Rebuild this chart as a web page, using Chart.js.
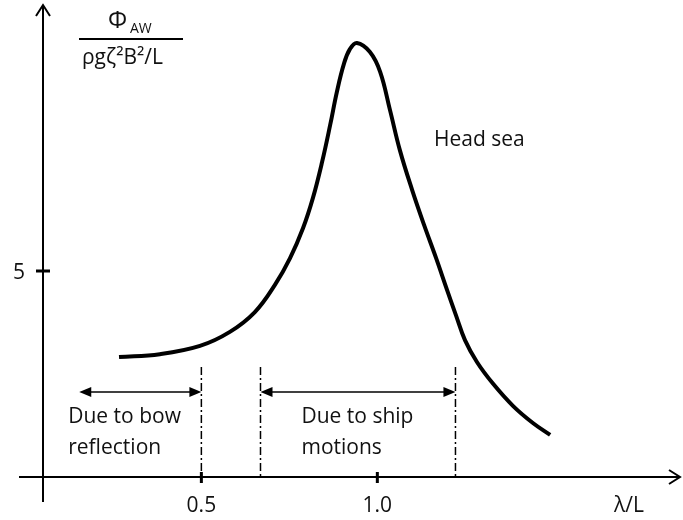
<!DOCTYPE html>
<html>
<head>
<meta charset="utf-8">
<script src="https://cdn.jsdelivr.net/npm/chart.js@4.4.1/dist/chart.umd.min.js"></script>
<style>
  html, body { margin: 0; padding: 0; background: #fff; }
  #wrap { width: 683px; height: 520px; }
</style>
</head>
<body>
<div id="wrap"><canvas id="chart"></canvas></div>
<script>
// wave length ratio λ/L and added resistance
const lambdaL = [0.266, 0.382, 0.496, 0.581, 0.652, 0.709, 0.752, 0.789, 0.817, 0.843, 0.866, 0.885,
    0.905, 0.922, 0.942, 0.979, 1.008, 1.036, 1.064, 1.099, 1.133, 1.167, 1.198, 1.224, 1.249,
    1.283, 1.329, 1.386, 1.442, 1.491];
const resistance = [2.91, 2.98, 3.18, 3.52, 4.00, 4.66, 5.31, 6.04, 6.77, 7.64, 8.54, 9.34,
    10.02, 10.38, 10.53, 10.31, 9.83, 8.90, 7.93, 6.96, 6.11, 5.31, 4.54, 3.91, 3.32,
    2.79, 2.26, 1.72, 1.31, 1.02];

const xTicks = [0.5, 1.0];
const xTickLabels = ['0.5', '1.0'];
const yTicks = [5];
const yTickLabels = ['5'];

// region limits on λ/L
const bowRange = [0.153, 0.5];
const shipRange = [0.668, 1.222];
const limitTop = 2.67;   // top of the dash-dot lines
const arrowLevel = 2.06; // height of the double arrows

const FONT = '"Open Sans", "Noto Sans", sans-serif';
const INK = '#111';

function arrowHead(ctx, x, y, dir) {
    // filled triangle, dir = -1 left, 1 right
    ctx.beginPath();
    ctx.moveTo(x, y);
    ctx.lineTo(x - dir * 12, y - 5);
    ctx.lineTo(x - dir * 12, y + 5);
    ctx.closePath();
    ctx.fill();
}

function doubleArrow(ctx, x1, x2, y) {
    ctx.beginPath();
    ctx.moveTo(x1 + 4, y);
    ctx.lineTo(x2 - 4, y);
    ctx.stroke();
    arrowHead(ctx, x1, y, -1);
    arrowHead(ctx, x2, y, 1);
}

const sketchPlugin = {
    id: 'sketch',
    afterDatasetsDraw(chart) {
        const ctx = chart.ctx;
        const xs = chart.scales.x, ys = chart.scales.y;
        const x0 = xs.getPixelForValue(xs.min);
        const y0 = ys.getPixelForValue(0);
        const yTop = ys.getPixelForValue(ys.max);
        const xRight = xs.getPixelForValue(xs.max);

        ctx.save();
        ctx.strokeStyle = '#000';
        ctx.fillStyle = '#000';

        // axes
        ctx.lineWidth = 2;
        ctx.beginPath();
        ctx.moveTo(x0, y0 + 25);
        ctx.lineTo(x0, yTop);
        ctx.moveTo(x0 - 24, y0);
        ctx.lineTo(xRight, y0);
        ctx.stroke();
        // open arrow heads
        ctx.beginPath();
        ctx.moveTo(x0 - 7, yTop + 11);
        ctx.lineTo(x0, yTop);
        ctx.lineTo(x0 + 7, yTop + 11);
        ctx.moveTo(xRight - 11, y0 - 7);
        ctx.lineTo(xRight, y0);
        ctx.lineTo(xRight - 11, y0 + 7);
        ctx.stroke();

        // ticks
        ctx.lineWidth = 3;
        ctx.beginPath();
        xTicks.forEach(v => {
            const px = xs.getPixelForValue(v);
            ctx.moveTo(px, y0 - 5);
            ctx.lineTo(px, y0 + 6);
        });
        yTicks.forEach(v => {
            const py = ys.getPixelForValue(v);
            ctx.moveTo(x0 - 7, py);
            ctx.lineTo(x0 + 7, py);
        });
        ctx.stroke();

        ctx.fillStyle = INK;
        ctx.font = '21px ' + FONT;
        ctx.textBaseline = 'alphabetic';
        ctx.textAlign = 'center';
        xTicks.forEach((v, i) => {
            ctx.fillText(xTickLabels[i], xs.getPixelForValue(v), y0 + 35);
        });
        ctx.textAlign = 'right';
        yTicks.forEach((v, i) => {
            ctx.fillText(yTickLabels[i], x0 - 18, ys.getPixelForValue(v) + 8);
        });
        ctx.textAlign = 'left';
        ctx.fillText('λ/L', 614, y0 + 35);

        // y axis title as a fraction
        ctx.font = '24px ' + FONT;
        ctx.fillText('Φ', 108, 28);
        ctx.font = '14px ' + FONT;
        ctx.fillText('AW', 130, 33);
        ctx.lineWidth = 2;
        ctx.beginPath();
        ctx.moveTo(79, 39);
        ctx.lineTo(183, 39);
        ctx.stroke();
        ctx.font = '21px ' + FONT;
        ctx.fillText('ρgζ²B²/L', 82, 64);

        ctx.fillText('Head sea', 434, 146);

        // dash-dot region limits
        const lt = ys.getPixelForValue(limitTop);
        ctx.strokeStyle = '#000';
        ctx.lineWidth = 1.5;
        ctx.setLineDash([8, 3, 2, 3]);
        ctx.beginPath();
        [bowRange[1], shipRange[0], shipRange[1]].forEach(v => {
            const px = xs.getPixelForValue(v);
            ctx.moveTo(px, lt);
            ctx.lineTo(px, y0);
        });
        ctx.stroke();
        ctx.setLineDash([]);

        // double arrows
        const ay = ys.getPixelForValue(arrowLevel);
        ctx.fillStyle = '#000';
        ctx.lineWidth = 1.5;
        doubleArrow(ctx, xs.getPixelForValue(bowRange[0]), xs.getPixelForValue(bowRange[1]), ay);
        doubleArrow(ctx, xs.getPixelForValue(shipRange[0]), xs.getPixelForValue(shipRange[1]), ay);

        ctx.fillStyle = INK;
        ctx.font = '21px ' + FONT;
        ctx.textAlign = 'left';
        const bx = xs.getPixelForValue(bowRange[0]) - 11;
        ctx.fillText('Due to bow', bx, ay + 31);
        ctx.fillText('reflection', bx, ay + 62);
        const sx = xs.getPixelForValue(shipRange[0]) + 41;
        ctx.fillText('Due to ship', sx, ay + 31);
        ctx.fillText('motions', sx, ay + 62);

        ctx.restore();
    }
};

new Chart(document.getElementById('chart'), {
    type: 'scatter',
    data: {
        datasets: [{
            data: lambdaL.map((x, i) => ({ x: x, y: resistance[i] })),
            showLine: true,
            borderColor: '#000',
            borderWidth: 4,
            pointRadius: 0,
            tension: 0.4,
            fill: false
        }]
    },
    options: {
        responsive: true,
        maintainAspectRatio: false,
        animation: false,
        layout: { padding: { left: 43, right: 3, top: 5, bottom: 43 } },
        plugins: {
            legend: { display: false },
            tooltip: { enabled: false }
        },
        scales: {
            x: { type: 'linear', min: 0.05, max: 1.86, display: false },
            y: { type: 'linear', min: 0, max: 11.45, display: false }
        }
    },
    plugins: [sketchPlugin]
});
</script>
</body>
</html>
